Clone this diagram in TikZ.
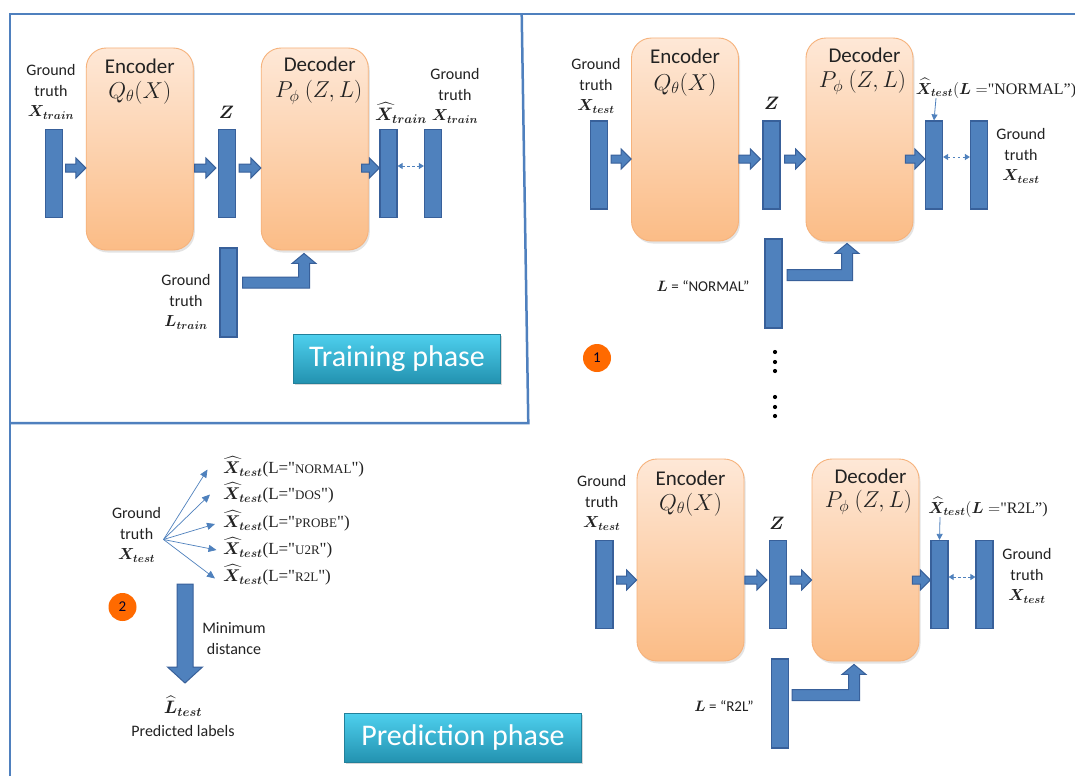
\RequirePackage{fix-cm}
\documentclass[tikz,border=0pt]{standalone}
\usepackage{amsmath,bm}
\usepackage{fontspec}
\setmainfont{Carlito}
\newfontfamily\serif{Liberation Serif}
\usetikzlibrary{calc,shadows,arrows.meta}
\definecolor{frameblue}{HTML}{4F80BE}
\definecolor{barblue}{HTML}{4F81BD}
\definecolor{bardark}{HTML}{38609A}
\definecolor{orgtop}{HTML}{FEE8D7}
\definecolor{orgbot}{HTML}{FBBC86}
\definecolor{orgline}{HTML}{F6B27B}
\definecolor{btntop}{HTML}{4ED0EE}
\definecolor{btnbot}{HTML}{2392B0}
\definecolor{btnline}{HTML}{22809A}
\definecolor{circ}{HTML}{FF6A00}
\definecolor{txt}{HTML}{222222}
\newcommand\harrow[2]{\path[blk] let \p1=(#1), \p2=(#2) in
  (\x1,\y1+4pt) -- (\x2-10pt,\y1+4pt) -- (\x2-10pt,\y1+10pt) -- (\x2,\y1)
  -- (\x2-10pt,\y1-10pt) -- (\x2-10pt,\y1-4pt) -- (\x1,\y1-4pt) -- cycle;}
\newcommand\elbowarrow[2]{\path[blk] let \p1=(#1), \p2=(#2) in
  (\x1,\y1+5.5pt) -- (\x2-5.5pt,\y1+5.5pt) -- (\x2-5.5pt,\y2-10pt) -- (\x2-12pt,\y2-10pt)
  -- (\x2,\y2) -- (\x2+12pt,\y2-10pt) -- (\x2+5.5pt,\y2-10pt) -- (\x2+5.5pt,\y1-5.5pt)
  -- (\x1,\y1-5.5pt) -- cycle;}
\newcommand\dnarrow[2]{\path[blk] let \p1=(#1), \p2=(#2) in
  (\x1-8pt,\y1) -- (\x1+8pt,\y1) -- (\x1+8pt,\y2+16pt) -- (\x1+17.5pt,\y2+16pt)
  -- (\x1,\y2) -- (\x1-17.5pt,\y2+16pt) -- (\x1-8pt,\y2+16pt) -- cycle;}
\begin{document}
\begin{tikzpicture}[x=1pt,y=-1pt,
  frame/.style={draw=frameblue,line width=2.5pt},
  bar/.style={draw=bardark,fill=barblue,line width=1.2pt,minimum width=17pt,minimum height=88pt,inner sep=0pt},
  codebox/.style={draw=orgline,line width=0.9pt,top color=orgtop,bottom color=orgbot,rounded corners=20pt,
    minimum width=107pt,minimum height=202pt,inner sep=0pt,
    drop shadow={opacity=0.22,shadow xshift=1.5pt,shadow yshift=-2.5pt}},
  blk/.style={fill=barblue,draw=bardark,line width=1pt},
  btn/.style={draw=btnline,line width=0.8pt,top color=btntop,bottom color=btnbot,text=white,
    font=\fontsize{30}{30}\selectfont,minimum height=49pt,inner sep=0pt,
    drop shadow={opacity=0.3,shadow xshift=1.5pt,shadow yshift=-2pt}},
  gt/.style={align=center,font=\fontsize{16}{20.5}\selectfont,text=txt,inner sep=0pt},
  title/.style={font=\fontsize{21}{21}\selectfont,text=txt,inner sep=0pt},
  mlbl/.style={font=\fontsize{23}{23}\selectfont,text=txt,inner sep=0pt},
  sym/.style={font=\fontsize{18}{18}\selectfont,text=txt,inner sep=0pt},
  fanlbl/.style={font=\fontsize{17}{17}\selectfont,text=txt,inner sep=0pt,anchor=west},
  lbl/.style={font=\fontsize{16}{16}\selectfont,text=txt,inner sep=0pt},
  fanarrow/.style={draw=barblue,line width=0.7pt,-{Triangle[length=8pt,width=7pt]}},
  thinarr/.style={draw=barblue,line width=0.8pt,-{Triangle[length=6pt,width=6pt]}},
  dblarrow/.style={draw=barblue,line width=0.9pt,dash pattern=on 2.5pt off 2.5pt,
    {Triangle[length=5pt,width=6pt]}-{Triangle[length=5pt,width=6pt]}},
  numcirc/.style={circle,fill=circ,minimum size=28pt,inner sep=0pt,text=black!85!blue,
    font=\fontsize{15}{15}\selectfont}]
\useasboundingbox (0,0) rectangle (1075,776);
\fill[white] (0,0) rectangle (1075,776);
% frame
\draw[frame] (10,776) -- (10,14) -- (1075,14);
\draw[frame] (521.7,14) -- (528.3,423) -- (10,423);

% ===== Training phase (top left)
\node[bar] (xin1) at (54,173.5) {};
\node[codebox] (enc1) at (139.75,149) {};
\node[bar] (z1) at (227,173.5) {};
\node[codebox] (dec1) at (314.75,149) {};
\node[bar] (xh1) at (388.5,173.5) {};
\node[bar] (gt1) at (433,173.5) {};
\node[bar,minimum height=89pt] (l1) at (228.5,292.5) {};
\node[gt] (tx1) at (51,92) {Ground\\truth\\$\boldsymbol{X}_{\boldsymbol{train}}$};
\node[title] (et1) at ($(enc1.north)+(0,19)$) {Encoder};
\node[mlbl] (eq1) at ($(enc1.north)+(0,45)$) {$Q_\theta(X)$};
\node[title] (dt1) at ($(dec1.north)+(5,17)$) {Decoder};
\node[mlbl] (dp1) at ($(dec1.north)+(4,45)$) {$P_{\phi}\ (Z,L)$};
\node[sym] (zl1) at (226.5,112) {$\boldsymbol{Z}$};
\node[sym] (xhl1) at (401,113) {$\widehat{\boldsymbol{X}}_{\boldsymbol{train}}$};
\node[gt] (tg1) at (455,96) {Ground\\truth\\$\boldsymbol{X}_{\boldsymbol{train}}$};
\node[gt] (tl1) at (186,302) {Ground\\truth\\$\boldsymbol{L}_{\boldsymbol{train}}$};
\harrow{$(xin1.east)+(2.5,-5.5)$}{enc1.west}
\harrow{$(enc1.east |- xin1)+(1,-5.5)$}{$(z1.west)+(-2,0)$}
\harrow{$(z1.east)+(3,-5.5)$}{dec1.west}
\harrow{$(dec1.east |- xh1)+(-7,-5.5)$}{xh1.west}
\draw[dblarrow] ([yshift=7.5pt]xh1.east) -- ([yshift=7.5pt]gt1.west);
\elbowarrow{$(l1.east)+(5,-10)$}{$(dec1.south)+(-10.75,3)$}
\node[btn,minimum width=207.5pt] (train) at (397,358.5) {Training phase};

% ===== Top right (prediction with NORMAL)
\node[bar] (xin2) at (599,165) {};
\node[codebox,minimum height=203pt] (enc2) at (685,139.5) {};
\node[bar] (z2) at (771.5,165) {};
\node[codebox,minimum height=203pt] (dec2) at (859.5,139.5) {};
\node[bar] (xh2) at (934,165) {};
\node[bar] (gt2) at (979,165) {};
\node[bar,minimum height=89pt] (l2) at (773.5,283.5) {};
\node[gt] (tx2) at (596,86) {Ground\\truth\\$\boldsymbol{X}_{\boldsymbol{test}}$};
\node[title] (et2) at ($(enc2.north)+(0,19)$) {Encoder};
\node[mlbl] (eq2) at ($(enc2.north)+(0,47)$) {$Q_\theta(X)$};
\node[title] (dt2) at ($(dec2.north)+(5,18)$) {Decoder};
\node[mlbl] (dp2) at ($(dec2.north)+(3,45)$) {$P_{\phi}\ (Z,L)$};
\node[sym] (zl2) at (771.6,103) {$\boldsymbol{Z}$};
\node[lbl] (xhl2) at (996,88) {$\widehat{\boldsymbol{X}}_{\boldsymbol{test}}(\boldsymbol{L}=${\serif"NORMAL”)}};
\node[gt] (tg2) at (1021,156) {Ground\\truth\\$\boldsymbol{X}_{\boldsymbol{test}}$};
\node[lbl,font=\fontsize{15}{15}\selectfont] (ll2) at (703,286) {$\boldsymbol{L}$ = “NORMAL”};
\harrow{$(xin2.east)+(3,-6)$}{enc2.west}
\harrow{$(enc2.east |- xin2)+(0,-6)$}{$(z2.west)+(-2,0)$}
\harrow{$(z2.east)+(4,-6)$}{dec2.west}
\harrow{$(dec2.east |- xh2)+(-8,-6)$}{xh2.west}
\draw[dblarrow] ([yshift=8pt]xh2.east) -- ([yshift=8pt]gt2.west);
\draw[thinarr] ([xshift=2pt]xh2.north |- xhl2.south) -- (xh2.north);
\elbowarrow{$(l2.east)+(4.5,-8.5)$}{$(dec2.south)+(-12.5,2)$}
\node[numcirc] (n1) at (597,358) {1};
\foreach \yy in {352,362,371,397,407,416} \fill[black] (775,\yy) circle (2.1);

% ===== Bottom right (prediction with R2L)
\node[bar] (xin3) at (604.5,584.5) {};
\node[codebox] (enc3) at (690.5,560) {};
\node[bar] (z3) at (778,584.5) {};
\node[codebox] (dec3) at (865.5,560) {};
\node[bar] (xh3) at (939.5,584.5) {};
\node[bar] (gt3) at (984.5,584.5) {};
\node[bar,minimum height=89pt] (l3) at (780,703.5) {};
\node[gt] (tx3) at (601.7,503) {Ground\\truth\\$\boldsymbol{X}_{\boldsymbol{test}}$};
\node[title] (et3) at ($(enc3.north)+(0,20)$) {Encoder};
\node[mlbl] (eq3) at ($(enc3.north)+(0,46)$) {$Q_\theta(X)$};
\node[title] (dt3) at ($(dec3.north)+(5,18)$) {Decoder};
\node[mlbl] (dp3) at ($(dec3.north)+(3,44)$) {$P_{\phi}\ (Z,L)$};
\node[sym] (zl3) at (777,523) {$\boldsymbol{Z}$};
\node[lbl] (xhl3) at (988,507) {$\widehat{\boldsymbol{X}}_{\boldsymbol{test}}(\boldsymbol{L}=${\serif"R2L”)}};
\node[gt] (tg3) at (1027,576) {Ground\\truth\\$\boldsymbol{X}_{\boldsymbol{test}}$};
\node[lbl,font=\fontsize{15}{15}\selectfont] (ll3) at (724,706) {$\boldsymbol{L}$ = “R2L”};
\harrow{$(xin3.east)+(3,-4.5)$}{enc3.west}
\harrow{$(enc3.east |- xin3)+(0.5,-4.5)$}{$(z3.west)+(-2,0)$}
\harrow{$(z3.east)+(3,-4.5)$}{dec3.west}
\harrow{$(dec3.east |- xh3)+(-7,-4.5)$}{xh3.west}
\draw[dblarrow] ([yshift=7.5pt]xh3.east) -- ([yshift=7.5pt]gt3.west);
\draw[thinarr] ([xshift=0.5pt]xh3.north |- xhl3.south) -- (xh3.north);
\elbowarrow{$(l3.east)+(3,-8.5)$}{$(dec3.south)+(-11.5,3)$}

% ===== Bottom left (label prediction)
\node[gt] (tx4) at (136.6,535) {Ground\\truth\\$\boldsymbol{X}_{\boldsymbol{test}}$};
\coordinate (fo) at (163.5,539.5);
\node[fanlbl] (f1) at (223,467) {$\widehat{\boldsymbol{X}}_{\boldsymbol{test}}${\serif(L="{\fontsize{13}{13}\selectfont NORMAL}")}};
\node[fanlbl] (f2) at (223,493) {$\widehat{\boldsymbol{X}}_{\boldsymbol{test}}${\serif(L="{\fontsize{13}{13}\selectfont DOS}")}};
\node[fanlbl] (f3) at (223,521) {$\widehat{\boldsymbol{X}}_{\boldsymbol{test}}${\serif(L="{\fontsize{13}{13}\selectfont PROBE}")}};
\node[fanlbl] (f4) at (223,548) {$\widehat{\boldsymbol{X}}_{\boldsymbol{test}}${\serif(L="{\fontsize{13}{13}\selectfont U2R}")}};
\node[fanlbl] (f5) at (223,575) {$\widehat{\boldsymbol{X}}_{\boldsymbol{test}}${\serif(L="{\fontsize{13}{13}\selectfont R2L}")}};
\draw[fanarrow] (fo) -- ($(f1.west)+(-15.5,2.5)$);
\draw[fanarrow] (fo) -- ($(f2.west)+(-13,1.5)$);
\draw[fanarrow] (fo) -- ($(f3.west)+(-8,3)$);
\draw[fanarrow] (fo) -- ($(f4.west)+(-6.5,2)$);
\draw[fanarrow] (fo) -- ($(f5.west)+(-8,3.5)$);
\node[numcirc] (n2) at (122.5,607) {2};
\node[sym] (lhat) at (183,706) {$\widehat{\boldsymbol{L}}_{\boldsymbol{test}}$};
\node[gt] (pl) at (183,731) {Predicted labels};
\coordinate (ds) at (185,584);
\coordinate (dtip) at (185,683);
\dnarrow{ds}{dtip}
\node[gt] (md) at (234,638.5) {Minimum\\distance};
\node[btn,minimum width=236.5pt] (pred) at (463,737.5) {Prediction phase};
\end{tikzpicture}
\end{document}
